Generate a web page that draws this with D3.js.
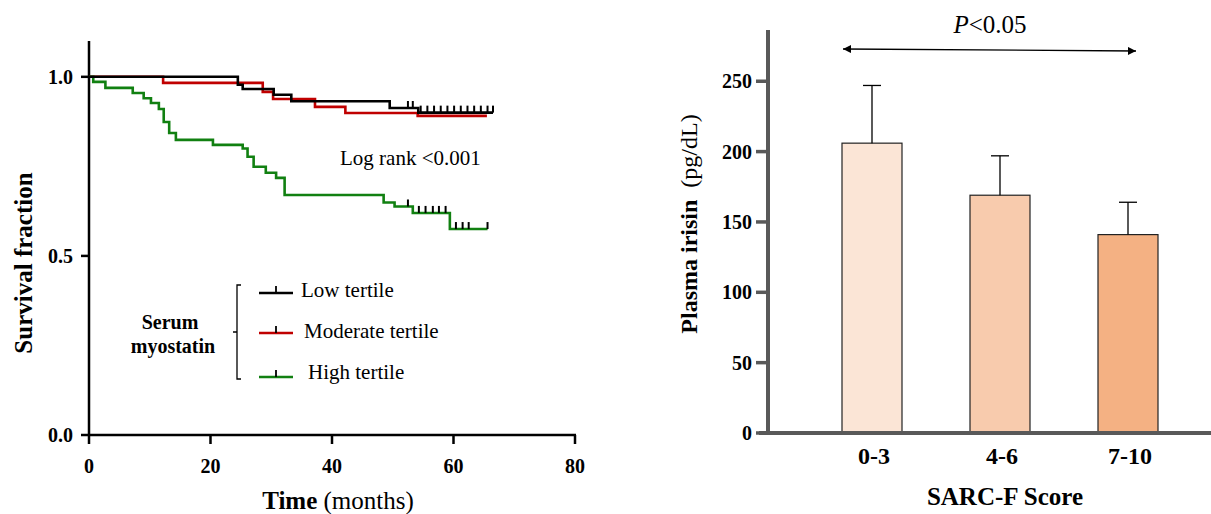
<!DOCTYPE html>
<html>
<head>
<meta charset="utf-8">
<script src="https://cdn.jsdelivr.net/npm/d3@7"></script>
<style>
  body { margin: 0; background: #fff; }
</style>
</head>
<body>
<script>
// ---- Kaplan-Meier data (left panel) ----
const lowTimes = [0, 24.5, 25.3, 30.4, 33.3, 49.5, 54.2, 66.5];
const lowSurv  = [1, 0.978, 0.966, 0.95, 0.932, 0.913, 0.9, 0.9];
const lowCensor = [52.5, 53.3, 54.6, 55.7, 56.8, 57.9, 59, 60.1, 61.2, 62.3, 63.4, 64.5, 65.6, 66.5];

const modTimes = [0, 12.2, 28.6, 30.3, 37.2, 42.2, 54.1, 65.5];
const modSurv  = [1, 0.983, 0.958, 0.938, 0.916, 0.899, 0.891, 0.891];
const modCensor = [];

const highTimes = [0, 0.7, 2.7, 7.2, 9.0, 10.2, 11.5, 12.3, 13.2, 14.3, 20.4, 25.3, 26.1, 27.1, 29.1, 30.8, 32.2, 48.5, 50.3, 53.3, 59.4, 65.6];
const highSurv  = [1, 0.986, 0.969, 0.955, 0.94, 0.927, 0.91, 0.874, 0.843, 0.824, 0.81, 0.80, 0.777, 0.749, 0.732, 0.718, 0.67, 0.649, 0.638, 0.62, 0.575, 0.575];
const highCensor = [52.5, 54.3, 55.4, 56.6, 57.6, 58.7, 60.4, 61.5, 62.5, 65.6];

const kmXTicks = [0, 20, 40, 60, 80];
const kmYTicks = [0, 0.5, 1.0];

// ---- Bar data (right panel) ----
const sarcCats = ["0-3", "4-6", "7-10"];
const irisinMean = [206, 169, 141];
const irisinErr  = [41, 28, 23];
const barColors = ["#fbe5d6", "#f8cbad", "#f4b183"];
const irisinTicks = [0, 50, 100, 150, 200, 250];

const W = 1211, H = 514;
const svg = d3.select("body").append("svg")
  .attr("width", W).attr("height", H)
  .attr("font-family", "'Liberation Serif', 'DejaVu Serif', serif");

// ================= Left: survival curves =================
const x = d3.scaleLinear().domain([0, 80]).range([89, 575]);
const y = d3.scaleLinear().domain([0, 1.1]).range([435, 41]);

const left = svg.append("g");

// axes
left.append("line").attr("x1", x(0)).attr("x2", x(0)).attr("y1", y(1.1)).attr("y2", y(0) + 1)
  .attr("stroke", "#000").attr("stroke-width", 2.5);
left.append("line").attr("x1", x(0) - 1).attr("x2", x(80) + 1).attr("y1", y(0)).attr("y2", y(0))
  .attr("stroke", "#000").attr("stroke-width", 2.5);

kmXTicks.forEach(t => {
  left.append("line").attr("x1", x(t)).attr("x2", x(t)).attr("y1", y(0)).attr("y2", y(0) + 9)
    .attr("stroke", "#000").attr("stroke-width", 2.5);
  left.append("text").attr("x", x(t)).attr("y", 473)
    .attr("text-anchor", "middle").attr("font-weight", "bold").attr("font-size", 20)
    .text(t);
});
kmYTicks.forEach(t => {
  left.append("line").attr("x1", x(0) - 8).attr("x2", x(0)).attr("y1", y(t)).attr("y2", y(t))
    .attr("stroke", "#000").attr("stroke-width", 2.5);
  left.append("text").attr("x", x(0) - 16).attr("y", y(t) + 7)
    .attr("text-anchor", "end").attr("font-weight", "bold").attr("font-size", 20)
    .text(d3.format(".1f")(t));
});

// axis titles
left.append("text").attr("transform", `translate(32,263) rotate(-90)`)
  .attr("text-anchor", "middle").attr("font-weight", "bold").attr("font-size", 25)
  .text("Survival fraction");
const xt = left.append("text").attr("x", 338).attr("y", 509)
  .attr("text-anchor", "middle").attr("font-size", 25);
xt.append("tspan").attr("font-weight", "bold").text("Time");
xt.append("tspan").text(" (months)");

// curves
const stepLine = d3.line().x(d => x(d[0])).y(d => y(d[1])).curve(d3.curveStepAfter);
function survAt(times, surv, t) {
  let v = surv[0];
  for (let i = 0; i < times.length; i++) if (times[i] <= t) v = surv[i];
  return v;
}
const groups = [
  { times: modTimes, surv: modSurv, censor: modCensor, color: "#c00000" },
  { times: highTimes, surv: highSurv, censor: highCensor, color: "#118011" },
  { times: lowTimes, surv: lowSurv, censor: lowCensor, color: "#000" }
];
groups.forEach(g => {
  const pts = g.times.map((t, i) => [t, g.surv[i]]);
  left.append("path").attr("d", stepLine(pts))
    .attr("fill", "none").attr("stroke", g.color).attr("stroke-width", 2.6);
});
groups.forEach(g => {
  g.censor.forEach(t => {
    const v = survAt(g.times, g.surv, t);
    left.append("line").attr("x1", x(t)).attr("x2", x(t))
      .attr("y1", y(v)).attr("y2", y(v) - 7)
      .attr("stroke", "#000").attr("stroke-width", 2);
  });
});

left.append("text").attr("x", 340).attr("y", 165).attr("font-size", 21)
  .text("Log rank <0.001");

// legend
const legItems = [
  { label: "Low tertile", color: "#000", y: 293, tx: 301, ty: 297 },
  { label: "Moderate tertile", color: "#c00000", y: 333, tx: 304, ty: 338 },
  { label: "High tertile", color: "#118011", y: 377, tx: 308, ty: 379 }
];
legItems.forEach(d => {
  left.append("line").attr("x1", 259).attr("x2", 293).attr("y1", d.y).attr("y2", d.y)
    .attr("stroke", d.color).attr("stroke-width", 2.6);
  left.append("line").attr("x1", 276).attr("x2", 276).attr("y1", d.y).attr("y2", d.y - 7)
    .attr("stroke", "#000").attr("stroke-width", 1.8);
  left.append("text").attr("x", d.tx).attr("y", d.ty).attr("font-size", 21).text(d.label);
});
left.append("path").attr("d", "M241,285 H237 V379 H241 M237,332 H233")
  .attr("fill", "none").attr("stroke", "#000").attr("stroke-width", 1.3);
left.append("text").attr("x", 170).attr("y", 329).attr("text-anchor", "middle")
  .attr("font-weight", "bold").attr("font-size", 20).text("Serum");
left.append("text").attr("x", 173).attr("y", 353).attr("text-anchor", "middle")
  .attr("font-weight", "bold").attr("font-size", 20).text("myostatin");

// ================= Right: bar chart =================
const yb = d3.scaleLinear().domain([0, 285]).range([433, 32]);
const xb = d3.scalePoint().domain(sarcCats).range([872, 1128]);
const barW = 60;
const axisGrey = "#595959";

const right = svg.append("g");

sarcCats.forEach((c, i) => {
  const cx = xb(c);
  right.append("rect").attr("x", cx - barW / 2).attr("y", yb(irisinMean[i]))
    .attr("width", barW).attr("height", yb(0) - yb(irisinMean[i]))
    .attr("fill", barColors[i]).attr("stroke", "#222").attr("stroke-width", 1.2);
  right.append("line").attr("x1", cx).attr("x2", cx)
    .attr("y1", yb(irisinMean[i])).attr("y2", yb(irisinMean[i] + irisinErr[i]))
    .attr("stroke", "#000").attr("stroke-width", 1.3);
  right.append("line").attr("x1", cx - 9).attr("x2", cx + 9)
    .attr("y1", yb(irisinMean[i] + irisinErr[i])).attr("y2", yb(irisinMean[i] + irisinErr[i]))
    .attr("stroke", "#000").attr("stroke-width", 1.3);
  right.append("text").attr("x", cx + 2).attr("y", 464).attr("text-anchor", "middle")
    .attr("font-weight", "bold").attr("font-size", 24).text(c);
});

right.append("line").attr("x1", 768).attr("x2", 768).attr("y1", 30).attr("y2", yb(0) + 2)
  .attr("stroke", axisGrey).attr("stroke-width", 4);
right.append("line").attr("x1", 759).attr("x2", W).attr("y1", yb(0)).attr("y2", yb(0))
  .attr("stroke", axisGrey).attr("stroke-width", 4);
irisinTicks.forEach(t => {
  right.append("line").attr("x1", 756).attr("x2", 768).attr("y1", yb(t)).attr("y2", yb(t))
    .attr("stroke", axisGrey).attr("stroke-width", 3.5);
  right.append("text").attr("x", 752).attr("y", yb(t) + 7).attr("text-anchor", "end")
    .attr("font-weight", "bold").attr("font-size", 20).text(t);
});

const yt = right.append("text").attr("transform", "translate(697,224) rotate(-90)")
  .attr("text-anchor", "middle").attr("font-size", 24);
yt.append("tspan").attr("font-weight", "bold").text("Plasma irisin");
yt.append("tspan").text("\u00a0\u00a0(pg/dL)");

right.append("text").attr("x", 1005).attr("y", 505).attr("text-anchor", "middle")
  .attr("font-weight", "bold").attr("font-size", 25).text("SARC-F Score");

// significance arrow
const defs = svg.append("defs");
["start", "end"].forEach(k => {
  defs.append("marker").attr("id", "arr-" + k)
    .attr("viewBox", "0 0 10 10").attr("refX", k === "end" ? 10 : 0).attr("refY", 5)
    .attr("markerWidth", 12).attr("markerHeight", 8).attr("markerUnits", "userSpaceOnUse")
    .attr("orient", "auto")
    .append("path").attr("d", k === "end" ? "M0,0 L10,5 L0,10 Z" : "M10,0 L0,5 L10,10 Z")
    .attr("fill", "#000");
});
right.append("line").attr("x1", 843).attr("x2", 1136).attr("y1", 49).attr("y2", 51)
  .attr("stroke", "#000").attr("stroke-width", 1.3)
  .attr("marker-start", "url(#arr-start)").attr("marker-end", "url(#arr-end)");
const pt = right.append("text").attr("x", 990).attr("y", 33).attr("text-anchor", "middle")
  .attr("font-size", 25);
pt.append("tspan").attr("font-style", "italic").text("P");
pt.append("tspan").text("<0.05");
</script>
</body>
</html>
